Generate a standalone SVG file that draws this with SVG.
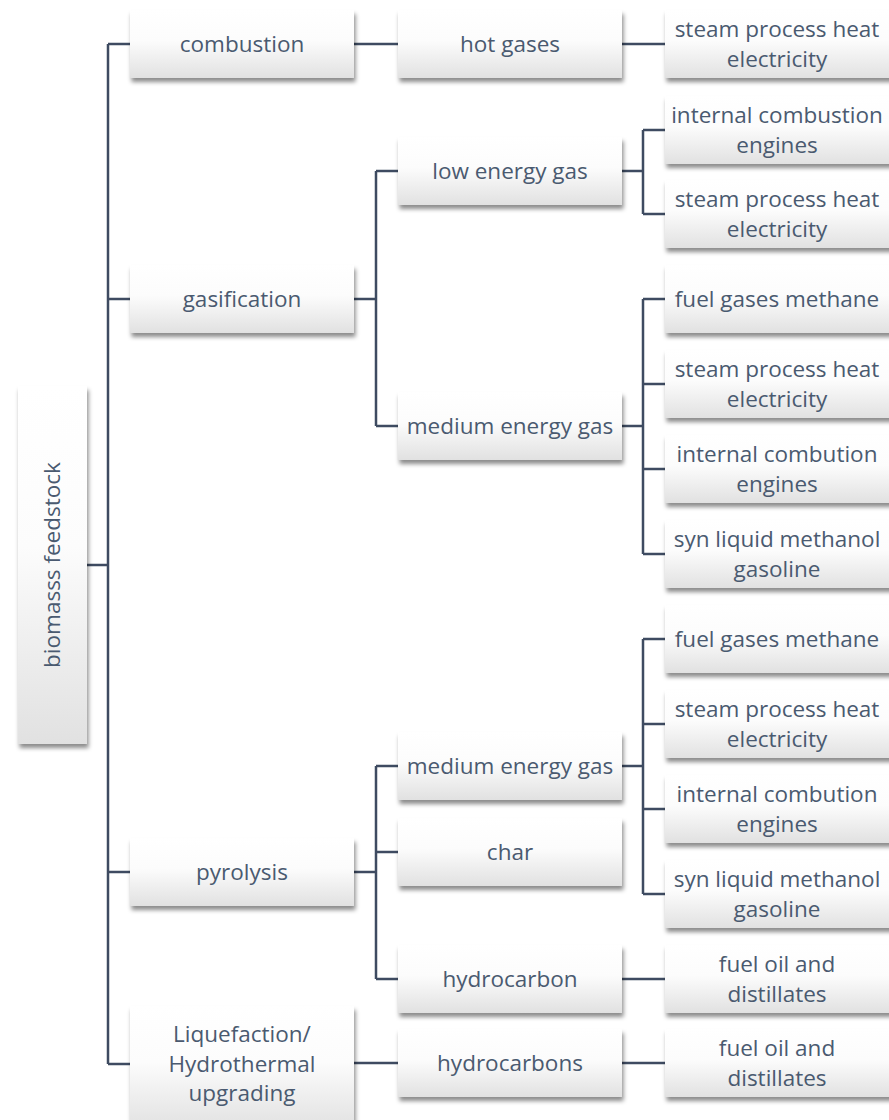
<svg xmlns="http://www.w3.org/2000/svg" width="889" height="1120" viewBox="0 0 889 1120">
<defs>
<linearGradient id="g" x1="0" y1="0" x2="0" y2="1">
<stop offset="0" stop-color="#ffffff"/>
<stop offset="0.45" stop-color="#fcfcfc"/>
<stop offset="1" stop-color="#e1e1e1"/>
</linearGradient>
<filter id="sh" x="-10%" y="-10%" width="125%" height="135%">
<feDropShadow dx="1.5" dy="4" stdDeviation="2.2" flood-color="#000" flood-opacity="0.45"/>
</filter>
<style>
.b{fill:url(#g);filter:url(#sh);}
.t{font-family:"Open Sans","Liberation Sans",sans-serif;font-size:22.5px;fill:#4a5a70;text-anchor:middle;dominant-baseline:central;}
.c{fill:none;stroke:#3e4b61;stroke-width:2.5;}
</style>
</defs>
<rect width="889" height="1120" fill="#ffffff"/>
<g id="connectors">
<path class="c" d="M87 565H108M108 44V1064M108 44H130M108 299H130M108 872H130M108 1064H130"/>
<path class="c" d="M354 44H398M622 44H665"/>
<path class="c" d="M354 299H376M376 171V426M376 171H398M376 426H398"/>
<path class="c" d="M622 171H643M643 130V214M643 130H665M643 214H665"/>
<path class="c" d="M622 426H643M643 299V554M643 299H665M643 384H665M643 469H665M643 554H665"/>
<path class="c" d="M354 872H376M376 766V979M376 766H398M376 852H398M376 979H398"/>
<path class="c" d="M622 766H643M643 639V894M643 639H665M643 724H665M643 809H665M643 894H665"/>
<path class="c" d="M622 979H665M354 1063H398M622 1063H665"/>
</g>
<g id="root"><rect class="b" x="18" y="386" width="69" height="358"/><text class="t" transform="translate(51 565) rotate(-90)">biomasss feedstock</text></g>
<g id="combustion"><rect class="b" x="130" y="10" width="224" height="68"/><text class="t" x="242" y="43">combustion</text></g>
<g id="gasification"><rect class="b" x="130" y="265" width="224" height="68"/><text class="t" x="242" y="298">gasification</text></g>
<g id="pyrolysis"><rect class="b" x="130" y="838" width="224" height="68"/><text class="t" x="242" y="871">pyrolysis</text></g>
<g id="liquefaction"><rect class="b" x="130" y="1006" width="224" height="124"/><text class="t" x="242" y="1033">Liquefaction/</text><text class="t" x="242" y="1063">Hydrothermal</text><text class="t" x="242" y="1092">upgrading</text></g>
<g id="hot-gases"><rect class="b" x="398" y="10" width="224" height="68"/><text class="t" x="510" y="43">hot gases</text></g>
<g id="low-energy-gas"><rect class="b" x="398" y="137" width="224" height="68"/><text class="t" x="510" y="170">low energy gas</text></g>
<g id="medium-energy-gas-1"><rect class="b" x="398" y="392" width="224" height="68"/><text class="t" x="510" y="425">medium energy gas</text></g>
<g id="medium-energy-gas-2"><rect class="b" x="398" y="732" width="224" height="68"/><text class="t" x="510" y="765">medium energy gas</text></g>
<g id="char"><rect class="b" x="398" y="818" width="224" height="68"/><text class="t" x="510" y="851">char</text></g>
<g id="hydrocarbon"><rect class="b" x="398" y="945" width="224" height="68"/><text class="t" x="510" y="978">hydrocarbon</text></g>
<g id="hydrocarbons"><rect class="b" x="398" y="1029" width="224" height="68"/><text class="t" x="510" y="1062">hydrocarbons</text></g>
<g id="out-comb"><rect class="b" x="665" y="10" width="232" height="68"/><text class="t" x="777" y="28">steam process heat</text><text class="t" x="777" y="58">electricity</text></g>
<g id="out-low-1"><rect class="b" x="665" y="96" width="232" height="68"/><text class="t" x="777" y="114">internal combustion</text><text class="t" x="777" y="144">engines</text></g>
<g id="out-low-2"><rect class="b" x="665" y="180" width="232" height="68"/><text class="t" x="777" y="198">steam process heat</text><text class="t" x="777" y="228">electricity</text></g>
<g id="out-med1-1"><rect class="b" x="665" y="265" width="232" height="68"/><text class="t" x="777" y="298">fuel gases methane</text></g>
<g id="out-med1-2"><rect class="b" x="665" y="350" width="232" height="68"/><text class="t" x="777" y="368">steam process heat</text><text class="t" x="777" y="398">electricity</text></g>
<g id="out-med1-3"><rect class="b" x="665" y="435" width="232" height="68"/><text class="t" x="777" y="453">internal combution</text><text class="t" x="777" y="483">engines</text></g>
<g id="out-med1-4"><rect class="b" x="665" y="520" width="232" height="68"/><text class="t" x="777" y="538">syn liquid methanol</text><text class="t" x="777" y="568">gasoline</text></g>
<g id="out-med2-1"><rect class="b" x="665" y="605" width="232" height="68"/><text class="t" x="777" y="638">fuel gases methane</text></g>
<g id="out-med2-2"><rect class="b" x="665" y="690" width="232" height="68"/><text class="t" x="777" y="708">steam process heat</text><text class="t" x="777" y="738">electricity</text></g>
<g id="out-med2-3"><rect class="b" x="665" y="775" width="232" height="68"/><text class="t" x="777" y="793">internal combution</text><text class="t" x="777" y="823">engines</text></g>
<g id="out-med2-4"><rect class="b" x="665" y="860" width="232" height="68"/><text class="t" x="777" y="878">syn liquid methanol</text><text class="t" x="777" y="908">gasoline</text></g>
<g id="out-hc"><rect class="b" x="665" y="945" width="232" height="68"/><text class="t" x="777" y="963">fuel oil and</text><text class="t" x="777" y="993">distillates</text></g>
<g id="out-hcs"><rect class="b" x="665" y="1029" width="232" height="68"/><text class="t" x="777" y="1047">fuel oil and</text><text class="t" x="777" y="1077">distillates</text></g>
</svg>
